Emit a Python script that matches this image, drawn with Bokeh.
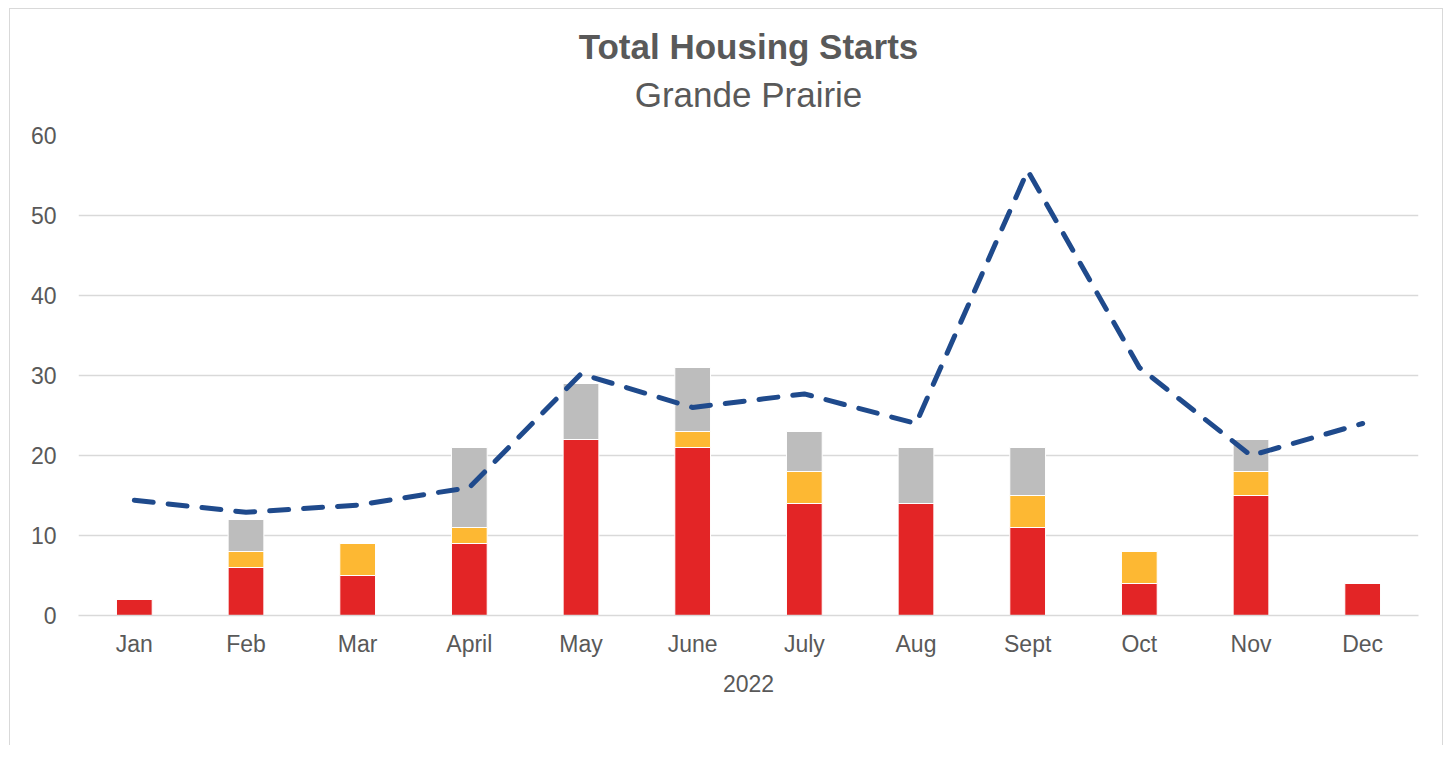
from bokeh.plotting import figure
from bokeh.models import (FactorRange, Range1d, Title, Legend, LegendItem,
                          SingleIntervalTicker, ColumnDataSource)
from bokeh.embed import file_html
from bokeh.resources import INLINE

# ---- data ----
year = "2022"
months = ["Jan", "Feb", "Mar", "April", "May", "June", "July", "Aug",
          "Sept", "Oct", "Nov", "Dec"]
single_detached = [2, 6, 5, 9, 22, 21, 14, 14, 11, 4, 15, 4]
row_semi = [0, 2, 4, 2, 0, 2, 4, 0, 4, 4, 3, 0]
multi_unit = [0, 4, 0, 10, 7, 8, 5, 7, 6, 0, 4, 0]
ten_year_avg = [14.4, 12.9, 13.8, 16.0, 30.2, 26.0, 27.7, 24.0, 55.6, 31.0, 20.0, 24.0]
series_names = ["Single-Detached", "Row/Semi-Detached", "Multi-Unit/Apartment"]
y_ticks_interval = 10

FONT = "Liberation Sans"
TXT = "#595959"
GRID = "#d9d9d9"
colors = ["#e32526", "#fdb833", "#bdbdbd"]
LINE = "#1f4a8c"

factors = [(year, m) for m in months]
src = ColumnDataSource(data=dict(x=factors, sd=single_detached, rs=row_semi,
                                 mu=multi_unit, avg=ten_year_avg))

p = figure(x_range=FactorRange(*factors), y_range=Range1d(0, 60),
           frame_width=1340, frame_height=480,
           min_border_left=68, min_border_right=24,
           min_border_top=126, min_border_bottom=130,
           output_backend="svg", toolbar_location=None,
           background_fill_color="white", border_fill_color="white")
p.margin = (8, 0, 0, 9)
p.styles = {"border-left": "1px solid #d9d9d9", "border-top": "1px solid #d9d9d9",
            "border-right": "1px solid #d9d9d9"}
p.outline_line_color = None

# titles
p.title.text = "Total Housing Starts"
p.title.text_font = FONT
p.title.text_font_size = "35px"
p.title.text_font_style = "bold"
p.title.text_color = TXT
p.title.align = "center"
p.title.standoff = -30
p.add_layout(Title(text="Grande Prairie", text_font=FONT, text_font_size="35px",
                   text_font_style="normal", text_color=TXT, align="center",
                   standoff=44), "above")

# bars
bars = p.vbar_stack(["sd", "rs", "mu"], x="x", width=0.32, source=src,
                    fill_color=colors, line_color="white", line_width=1)
avg_line = p.line(x="x", y="avg", source=src, line_color=LINE, line_width=5,
                  line_dash="19 15", line_cap="round", line_join="round")

# axes
p.yaxis.ticker = SingleIntervalTicker(interval=y_ticks_interval)
p.yaxis.axis_line_color = None
p.yaxis.major_tick_line_color = None
p.yaxis.minor_tick_line_color = None
p.yaxis.major_tick_out = 0
p.yaxis.major_label_standoff = 18
p.yaxis.major_label_text_font = FONT
p.yaxis.major_label_text_font_size = "23px"
p.yaxis.major_label_text_color = TXT

xa = p.xaxis[0]
xa.axis_line_color = GRID
xa.axis_line_width = 1.5
xa.major_tick_line_color = None
xa.major_tick_out = 0
xa.major_label_standoff = 15
xa.major_label_text_font = FONT
xa.major_label_text_font_size = "23px"
xa.major_label_text_color = TXT
xa.group_text_font = FONT
xa.group_text_font_size = "23px"
xa.group_text_font_style = "normal"
xa.group_text_color = TXT
xa.separator_line_color = None

p.xgrid.grid_line_color = None
p.ygrid.grid_line_color = GRID
p.ygrid.grid_line_width = 1.5

# legend (placed below the frame, in screen offsets from the frame's bottom-left)
items = [LegendItem(label=n, renderers=[r]) for n, r in zip(series_names, bars)]
items.append(LegendItem(label="Ten-Year Average", renderers=[avg_line]))
legend = Legend(items=items, orientation="horizontal", location=(41, -120),
                spacing=40, label_standoff=6, glyph_width=68, glyph_height=12,
                label_text_font=FONT, label_text_font_size="23px",
                label_text_color=TXT, border_line_color=None,
                background_fill_alpha=0, padding=0, margin=0)
p.add_layout(legend, "center")

with open("out.html", "w") as f:
    f.write(file_html(p, INLINE))
